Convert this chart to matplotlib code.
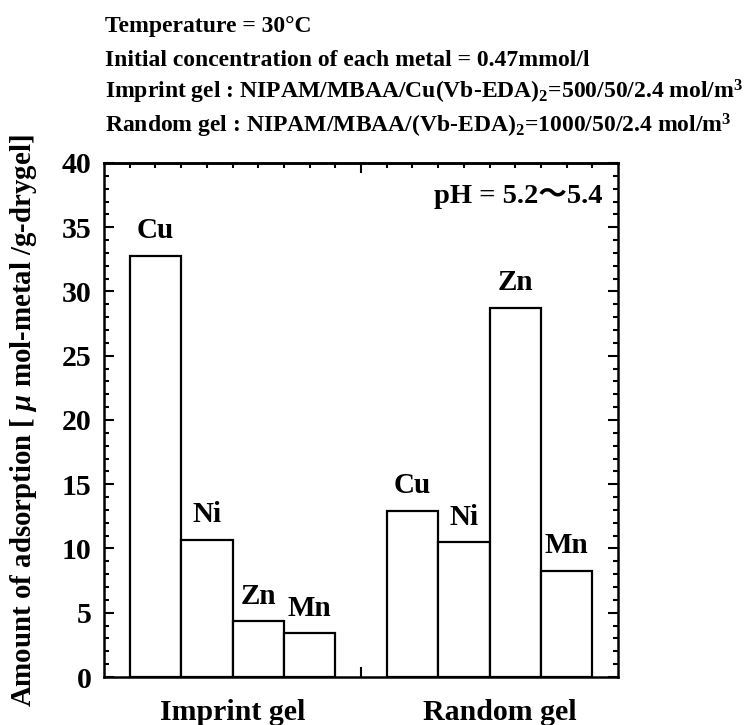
import numpy as np
import matplotlib
matplotlib.use("Agg")
import matplotlib.pyplot as plt
import matplotlib.transforms as mtransforms

plt.rcParams['font.family'] = ['Liberation Serif', 'Noto Sans CJK JP', 'DejaVu Sans']
plt.rcParams['font.weight'] = 'bold'
plt.rcParams['mathtext.fontset'] = 'custom'
plt.rcParams['mathtext.rm'] = 'Liberation Serif:bold'
plt.rcParams['mathtext.bf'] = 'Liberation Serif:bold'
plt.rcParams['mathtext.it'] = 'Liberation Serif:bold:italic'

# data
metals = ['Cu', 'Ni', 'Zn', 'Mn']
imprint_gel = [32.8, 10.7, 4.35, 3.4]
random_gel = [12.95, 10.5, 28.75, 8.25]
groups = ['Imprint gel', 'Random gel']
header = [
    'Temperature = 30\u00b0C',
    'Initial concentration of each metal = 0.47mmol/l',
    r'Imprint gel : NIPAM/MBAA/Cu(Vb-EDA)$_{\mathbf{2}}$=500/50/2.4 mol/m$^{\mathbf{3}}$',
    r'Random gel : NIPAM/MBAA/(Vb-EDA)$_{\mathbf{2}}$=1000/50/2.4 mol/m$^{\mathbf{3}}$',
]
ph_text = 'pH = 5.2\u301c5.4'
ylabel = r'Amount of adsorption [ $\mu$ mol-metal /g-drygel]'

fig = plt.figure(figsize=(7.5, 7.25), dpi=100)
ax = fig.add_axes([0.1387, 0.0662, 0.6853, 0.709])

x_imp = np.arange(1, 5)
x_ran = np.arange(6, 10)
for xs, vals in [(x_imp, imprint_gel), (x_ran, random_gel)]:
    ax.bar(xs, vals, width=1.0, color='white', edgecolor='black', linewidth=1.6, zorder=2)
    for xi, v, m in zip(xs, vals, metals):
        ax.text(xi, v + 0.9, m, ha='center', va='bottom', fontsize=21, fontweight='bold')

ax.set_xlim(0, 10)
ax.set_ylim(0, 40)

ax.set_yticks(np.arange(0, 41, 5))
ax.set_yticks(np.arange(0, 41, 1), minor=True)
ax.set_xticks([5])
ax.set_xticks([1, 2, 3, 4, 6, 7, 8, 9], minor=True)
ax.set_xticklabels([])
ax.tick_params(axis='y', which='both', direction='in', left=True, right=True, width=1.5)
ax.tick_params(axis='x', which='both', direction='in', bottom=True, top=False, width=1.5)
ax.tick_params(which='major', length=7)
ax.tick_params(which='minor', length=3.6)
ax.tick_params(axis='y', labelsize=21.5, pad=9)
for lab in ax.get_yticklabels():
    lab.set_fontweight('bold')
for sp in ax.spines.values():
    sp.set_linewidth(1.8)

# top axis has ticks every half unit
sec = ax.secondary_xaxis('top')
sec.set_xticks([5])
sec.set_xticks([v for v in np.arange(0.5, 10, 0.5) if v != 5], minor=True)
sec.set_xticklabels([])
sec.tick_params(which='both', direction='in', width=1.5)
sec.tick_params(which='major', length=7)
sec.tick_params(which='minor', length=3.6)
sec.spines['top'].set_linewidth(1.8)

trans = mtransforms.blended_transform_factory(ax.transData, ax.transAxes)
ax.text(x_imp.mean(), -0.083, groups[0], transform=trans, ha='center', va='baseline',
        fontsize=21.5, fontweight='bold')
ax.text(x_ran.mean() + 0.2, -0.083, groups[1], transform=trans, ha='center', va='baseline',
        fontsize=21.5, fontweight='bold')

ax.text(0.969, 0.922, ph_text, transform=ax.transAxes, ha='right', va='baseline',
        fontsize=20.5, fontweight='bold')

fig.text(0.031, 0.419, ylabel, rotation=90, ha='center', va='center', fontsize=20.8, fontweight='bold')

for i, line in enumerate(header):
    fig.text(0.14, 1 - [32, 66, 99, 133][i] / 725, line, ha='left', va='baseline',
             fontsize=17, fontweight='bold')

fig.savefig('out.png', dpi=100)
